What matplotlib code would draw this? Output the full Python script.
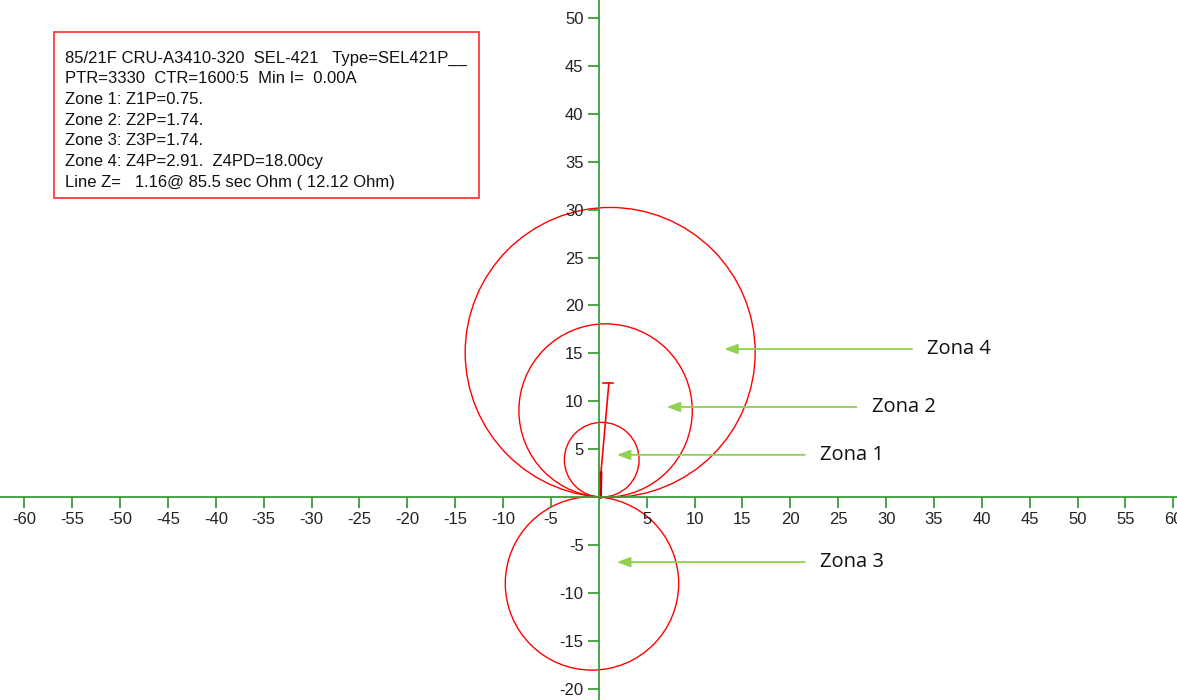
import matplotlib
matplotlib.use('Agg')
import numpy as np
import matplotlib.pyplot as plt
from matplotlib.patches import Circle, Rectangle

plt.rcParams['axes.unicode_minus'] = False

# relay settings
ptr = 3330
ctr = 1600 / 5
line_angle = 85.5
line_z_sec = 1.16
zone_names = ['Zone 1', 'Zone 2', 'Zone 3', 'Zone 4']
zone_reach_sec = [0.75, 1.74, 1.74, 2.91]
zone_dir = [1, 1, -1, 1]

info_lines = [
    '85/21F CRU-A3410-320  SEL-421   Type=SEL421P__',
    'PTR=3330  CTR=1600:5  Min I=  0.00A',
    'Zone 1: Z1P=0.75.',
    'Zone 2: Z2P=1.74.',
    'Zone 3: Z3P=1.74.',
    'Zone 4: Z4P=2.91.  Z4PD=18.00cy',
    'Line Z=   1.16@ 85.5 sec Ohm ( 12.12 Ohm)',
]

# annotation labels: text, arrow head (x, y), arrow tail x
labels = ['Zona 4', 'Zona 2', 'Zona 1', 'Zona 3']
label_head_x = [12.8, 6.8, 1.6, 1.6]
label_y = [15.45, 9.4, 4.4, -6.8]
label_tail_x = [33.0, 27.2, 21.8, 21.8]

xticks = [v for v in range(-60, 61, 5) if v != 0]
yticks = [v for v in range(-20, 51, 5) if v != 0]

ratio = ptr / ctr
green = '#3c9c3c'

fig = plt.figure(figsize=(11.77, 7.0), dpi=100)
ax = fig.add_axes([0, 0, 1, 1])
ax.set_xlim(-62.5, 60.35)
ax.set_ylim(-21.2, 51.9)
ax.set_aspect('equal')

for s in ['top', 'right']:
    ax.spines[s].set_visible(False)
for s in ['left', 'bottom']:
    ax.spines[s].set_position(('data', 0))
    ax.spines[s].set_color(green)
    ax.spines[s].set_linewidth(1.3)

ax.set_xticks(xticks)
ax.set_yticks(yticks)
ax.tick_params(axis='both', colors=green, labelcolor='#222222', length=8,
               width=1.3, labelsize=12, pad=3)
for lab in ax.get_xticklabels() + ax.get_yticklabels():
    lab.set_family('Liberation Sans')

th = np.deg2rad(line_angle)
for reach, d in zip(zone_reach_sec, zone_dir):
    r = reach * ratio / 2
    c = (d * r * np.cos(th), d * r * np.sin(th))
    ax.add_patch(Circle(c, r, fill=False, edgecolor='red', lw=1.0))

# line impedance
lz = 12.12
lx, ly = lz * np.cos(th) + 0.1, lz * np.sin(th) - 0.2
ax.plot([0, lx], [0, ly], color='red', lw=1.2)
ax.plot([lx - 0.6, lx + 0.4], [ly, ly], color='red', lw=1.2)
ax.plot([0.15, 0.2], [0, 2.5], color='#cc0000', lw=2.5)

for t, hx, y, tx in zip(labels, label_head_x, label_y, label_tail_x):
    ax.annotate('', xy=(hx, y), xytext=(tx, y),
                arrowprops=dict(arrowstyle='-|>,head_length=0.8,head_width=0.3',
                                color='#92d050', lw=1.3))
    ax.text(tx + 1.3, y, t, fontsize=14.5, family='Open Sans', va='center',
            ha='left', color='#111111')

# info box
fig.patches.append(Rectangle((54 / 1177, 1 - 198 / 700), 425 / 1177, 166 / 700,
                             transform=fig.transFigure, fill=False,
                             edgecolor='#ff3b3b', lw=1.3))
for i, s in enumerate(info_lines):
    fig.text(65 / 1177, 1 - (58 + i * 20.7) / 700, s, fontsize=12,
             family='Liberation Sans', va='center', ha='left', color='#111111')

fig.savefig('out.png', dpi=100)
